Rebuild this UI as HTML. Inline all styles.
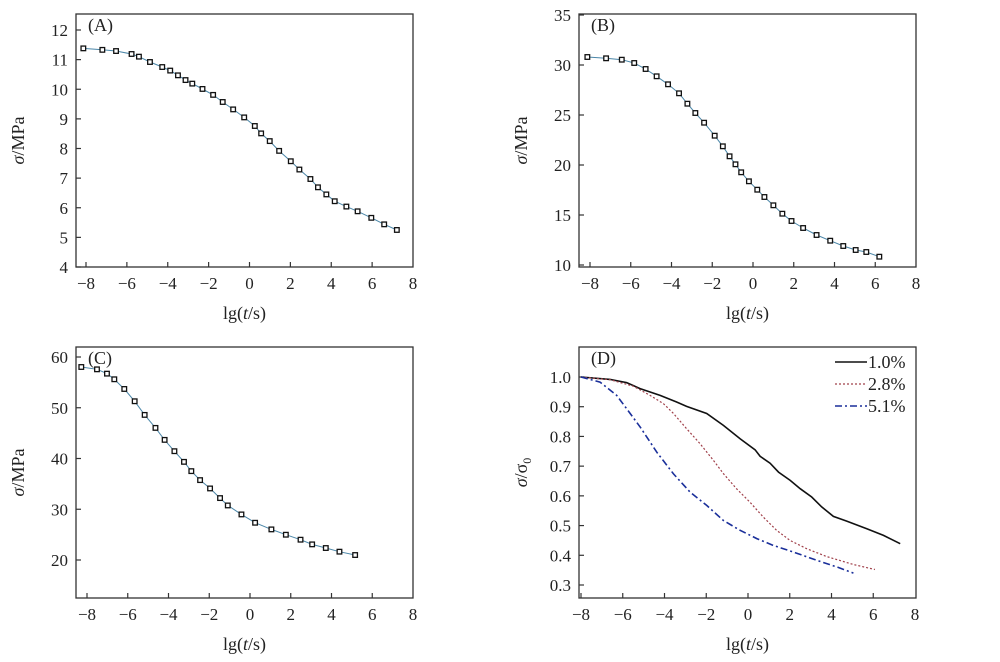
<!DOCTYPE html>
<html><head><meta charset="utf-8"><style>
body{margin:0;background:#fff;}
svg{display:block;font-family:"Liberation Serif",serif;}
</style></head><body>
<svg id="fig" width="1000" height="662" viewBox="0 0 1000 662"></svg>
<script>
// ---- data ----
const xTicks=[-8,-6,-4,-2,0,2,4,6,8];
const aX=[-8.13,-7.2,-6.53,-5.77,-5.41,-4.87,-4.27,-3.88,-3.5,-3.13,-2.8,-2.3,-1.78,-1.31,-0.8,-0.26,0.26,0.57,0.99,1.45,2.02,2.44,2.98,3.35,3.76,4.17,4.74,5.29,5.96,6.59,7.21];
const aY=[11.38,11.33,11.29,11.19,11.1,10.92,10.75,10.63,10.47,10.31,10.19,10.01,9.81,9.57,9.32,9.05,8.76,8.51,8.25,7.92,7.57,7.29,6.97,6.69,6.45,6.22,6.04,5.88,5.66,5.44,5.25];
const aTicks=[4,5,6,7,8,9,10,11,12];
const bX=[-8.13,-7.21,-6.44,-5.83,-5.27,-4.73,-4.17,-3.63,-3.22,-2.83,-2.4,-1.88,-1.48,-1.15,-0.86,-0.58,-0.2,0.21,0.56,1.0,1.44,1.89,2.46,3.12,3.79,4.43,5.04,5.56,6.2];
const bY=[30.8,30.67,30.53,30.2,29.6,28.87,28.07,27.17,26.13,25.2,24.23,22.93,21.87,20.87,20.07,19.27,18.37,17.53,16.8,15.97,15.13,14.4,13.7,13.0,12.43,11.9,11.5,11.3,10.83];
const bTicks=[10,15,20,25,30,35];
const cX=[-8.28,-7.51,-7.02,-6.66,-6.17,-5.66,-5.17,-4.64,-4.19,-3.71,-3.24,-2.88,-2.45,-1.96,-1.47,-1.09,-0.42,0.25,1.05,1.76,2.48,3.05,3.72,4.39,5.16];
const cY=[58.03,57.57,56.72,55.61,53.7,51.28,48.59,46.03,43.67,41.44,39.34,37.51,35.74,34.1,32.2,30.75,28.98,27.34,26.03,24.98,24.0,23.08,22.36,21.64,20.98];
const cTicks=[20,30,40,50,60];
const d1X=[-8,-6.61,-5.81,-5.17,-4.21,-3.42,-2.94,-1.98,-1.18,-0.38,0.34,0.58,1.06,1.46,2.02,2.5,3.05,3.53,4.09,4.73,5.69,6.49,7.29];
const d1Y=[1.0,0.992,0.981,0.961,0.938,0.916,0.901,0.877,0.837,0.792,0.755,0.733,0.71,0.68,0.652,0.624,0.596,0.563,0.531,0.515,0.489,0.467,0.439];
const d2X=[-8,-6.61,-5.49,-4.69,-4.05,-3.57,-2.94,-2.3,-1.66,-1.18,-0.55,0.09,0.73,1.37,2.01,2.81,3.76,5.05,6.08];
const d2Y=[1.0,0.991,0.969,0.938,0.91,0.877,0.826,0.776,0.72,0.675,0.624,0.579,0.529,0.484,0.45,0.422,0.396,0.369,0.352];
const d3X=[-8,-7.09,-6.29,-5.81,-5.17,-4.37,-3.57,-2.78,-1.98,-1.18,-0.38,0.42,1.22,2.17,3.29,4.25,5.05];
const d3Y=[1.0,0.983,0.938,0.893,0.832,0.747,0.674,0.613,0.568,0.517,0.484,0.456,0.433,0.411,0.383,0.361,0.34];
const dTicks=[0.3,0.4,0.5,0.6,0.7,0.8,0.9,1.0];
const legendLabels=["1.0%","2.8%","5.1%"];

const NS="http://www.w3.org/2000/svg";
const svg=document.getElementById('fig');
function mk(tag,attrs,parent){const e=document.createElementNS(NS,tag);for(const k in attrs)e.setAttribute(k,attrs[k]);(parent||svg).appendChild(e);return e;}

function panel(p){
  const g=mk('g',{});
  
  
  const sx=v=>p.x0+(v-(-8))*(p.x1-p.x0)/16;
  const sy=v=>p.yb+(v-p.ymin)*(p.yt-p.yb)/(p.ymax-p.ymin);
  const box=mk('rect',{x:p.L,y:p.T,width:p.R-p.L,height:p.B-p.T,fill:'none',stroke:'#333','stroke-width':1.3},g);
  
  
  xTicks.forEach(t=>{
    const x=sx(t);
    if(x<p.R-1){const l=mk('line',{x1:x,x2:x,y1:p.B,y2:p.B-5,stroke:'#333','stroke-width':1.2},g);
    
    }
    const tx=mk('text',{x:x,y:p.B+22,'font-size':17,'text-anchor':'middle',fill:'#222'},g);
    tx.textContent=t<0?'\u2212'+(-t):String(t);
    
    
  });
  p.yTicks.forEach(t=>{
    const y=sy(t);
    const l=mk('line',{x1:p.L,x2:p.L+5,y1:y,y2:y,stroke:'#333','stroke-width':1.2},g);
    
    
    const tx=mk('text',{x:p.L-8,y:y+6,'font-size':17,'text-anchor':'end',fill:'#222'},g);
    tx.textContent=p.fmt?t.toFixed(1):String(t);
    
    
  });
  const xl=mk('text',{x:(p.L+p.R)/2,y:p.B+52,'font-size':18,'text-anchor':'middle',fill:'#222'},g);
  xl.innerHTML='lg(<tspan font-style="italic">t</tspan>/s)';
  
  
  const yl=mk('text',{transform:`translate(${p.L-52},${(p.T+p.B)/2}) rotate(-90)`,'font-size':18,'text-anchor':'middle',fill:'#222'},g);
  yl.innerHTML=p.ylab;
  
  
  const pl=mk('text',{x:p.L+12,y:p.T+17,'font-size':18,fill:'#222'},g);
  pl.textContent='('+p.id+')';
  
  
  return {g,sx,sy};
}
function markerSeries(P,X,Y){
  const {g,sx,sy}=P;
  const d=X.map((v,i)=>(i?'L':'M')+sx(v).toFixed(1)+','+sy(Y[i]).toFixed(1)).join('');
  const ln=mk('path',{d:d,fill:'none',stroke:'#4a86a8','stroke-width':1},g);
  
  
  X.forEach((v,i)=>{
    const r=mk('rect',{x:sx(v)-2.3,y:sy(Y[i])-2.3,width:4.6,height:4.6,fill:'#fff',stroke:'#111','stroke-width':1.3},g);
    
    
  });
}
const pA=panel({id:'A',L:76,R:413,T:14,B:267,x0:86,x1:413,ymin:4,ymax:12,yb:267,yt:30,yTicks:aTicks,ylab:'<tspan font-style="italic">σ</tspan>/MPa'});
markerSeries(pA,aX,aY);
const pB=panel({id:'B',L:579,R:916,T:14,B:267,x0:590,x1:916,ymin:10,ymax:35,yb:265,yt:15,yTicks:bTicks,ylab:'<tspan font-style="italic">σ</tspan>/MPa'});
markerSeries(pB,bX,bY);
const pC=panel({id:'C',L:76,R:413,T:347,B:598,x0:87,x1:413,ymin:20,ymax:60,yb:560,yt:357,yTicks:cTicks,ylab:'<tspan font-style="italic">σ</tspan>/MPa'});
markerSeries(pC,cX,cY);
const pD=panel({id:'D',L:579,R:916,T:347,B:598,x0:581,x1:915,ymin:0.3,ymax:1.0,yb:585,yt:377,yTicks:dTicks,fmt:true,ylab:'<tspan font-style="italic">σ</tspan>/σ<tspan font-size="12" dy="4">0</tspan>'});
const styles=[{c:'#111',w:1.6,da:''},{c:'#a0404a',w:1.2,da:'2,2'},{c:'#1a2f9a',w:1.6,da:'7,3,2,3'}];
[[d1X,d1Y],[d2X,d2Y],[d3X,d3Y]].forEach((s,k)=>{
  const d=s[0].map((v,i)=>(i?'L':'M')+pD.sx(v).toFixed(1)+','+pD.sy(s[1][i]).toFixed(1)).join('');
  const ln=mk('path',{d:d,fill:'none',stroke:styles[k].c,'stroke-width':styles[k].w,'stroke-dasharray':styles[k].da},pD.g);
  
  
  const ly=362+k*22;
  const ll=mk('line',{x1:835,x2:867,y1:ly,y2:ly,stroke:styles[k].c,'stroke-width':styles[k].w,'stroke-dasharray':styles[k].da},pD.g);
  
  
  const lt=mk('text',{x:868,y:ly+6,'font-size':18,fill:'#222'},pD.g);
  lt.textContent=legendLabels[k];
  
  
});
</script>
</body></html>
